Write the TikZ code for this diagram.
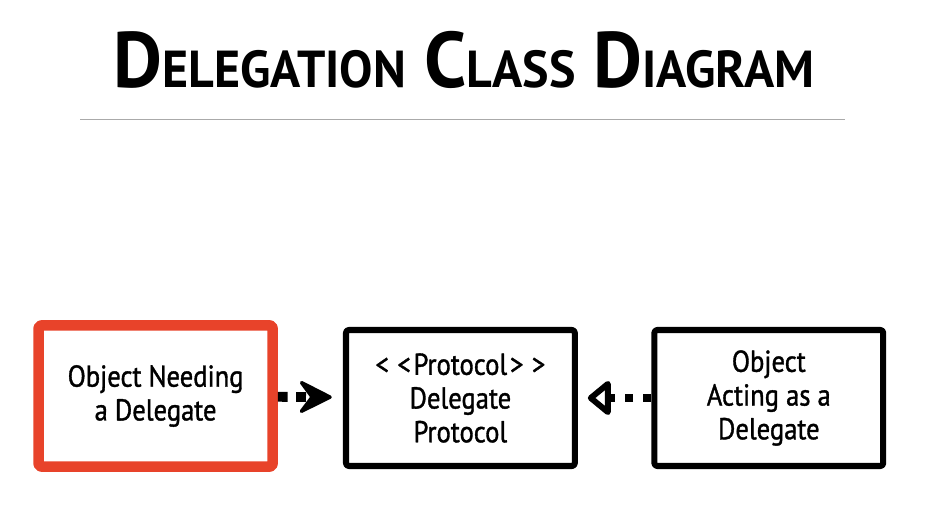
\documentclass[tikz,border=0pt]{standalone}
\usepackage{fontspec}
\newfontfamily\handfont[FakeStretch=0.88, FakeBold=1.2]{PT Sans}
\newfontfamily\titlefont[FakeStretch=0.96]{PT Sans}
\usetikzlibrary{arrows.meta}
\definecolor{needred}{RGB}{232,67,42}
\definecolor{rulegray}{RGB}{170,170,170}
\newcommand{\scword}[2]{{\fontsize{56}{56}\selectfont #1}{\fontsize{37}{37}\selectfont #2}}

\begin{document}
\begin{tikzpicture}[
            > = Stealth, % arrow head style
            line join = round,
            every node/.style = {font=\handfont\fontsize{21.5}{24}\selectfont},
            class/.style = {
                draw = black,
                line width = 4.3pt,
                rounded corners = 2pt,
                fill = white,
                align = center,
                inner sep = 0pt,
                minimum width = 5.72cm,
                minimum height = 3.4cm
            },
            uses/.style = {
                line width = 7pt,
                dash pattern = on 7pt off 6pt,
                shorten > = 0.28cm,
                -{Stealth[length=0.95cm, width=0.95cm, inset=0.35cm, line width=2.5pt, round]}
            },
            realizes/.style = {
                line width = 5.5pt,
                dash pattern = on 6pt off 7pt,
                shorten > = 0.25cm,
                -{Triangle[open, length=0.62cm, width=0.98cm, line width=4.2pt, round]}
            }
        ]

        \useasboundingbox (0,0) rectangle (23.55,-13.2);

        % title and rule
        \node[font=\titlefont\bfseries, anchor=base] (title) at (11.6,-2.2)
            {\scword{D}{ELEGATION}\hspace{0.45cm}\scword{C}{LASS}\hspace{0.45cm}\scword{D}{IAGRAM}};
        \coordinate (ruleL) at (2,-2.975);
        \coordinate (ruleR) at (21.125,-2.975);
        \draw[rulegray, line width=0.6pt] (ruleL) -- (ruleR);

        % classes
        \node[class, draw=needred, line width=7.5pt, minimum width=5.85cm, minimum height=3.53cm] (obj) at (3.89,-9.9)
            {Object Needing\\a Delegate};
        \node[class] (prot) at (11.51,-9.95)
            {<\kern6pt<\kern2pt Protocol\kern2pt>\kern6pt>\\Delegate\\Protocol};
        \node[class] (dlg) at (19.22,-9.95)
            {Object\\Acting as a\\Delegate};

        \draw[uses] (obj) -- (prot);
        \draw[realizes] (dlg) -- (prot);
    \end{tikzpicture}
\end{document}
